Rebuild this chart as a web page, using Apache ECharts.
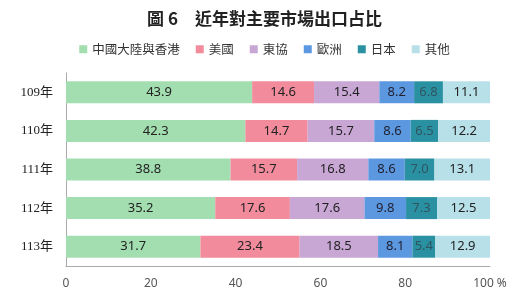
<!DOCTYPE html>
<html><head><meta charset="utf-8">
<script src="https://cdn.jsdelivr.net/npm/echarts@6/dist/echarts.min.js"></script>
<style>html,body{margin:0;padding:0;background:#fff}#c{width:529px;height:308px}</style>
</head><body><div id="c"></div>
<script>
const categories = ['109年','110年','111年','112年','113年'];
const seriesNames = ['中國大陸與香港','美國','東協','歐洲','日本','其他'];
const chinaHK = [43.9, 42.3, 38.8, 35.2, 31.7];
const usa = [14.6, 14.7, 15.7, 17.6, 23.4];
const asean = [15.4, 15.7, 16.8, 17.6, 18.5];
const europe = [8.2, 8.6, 8.6, 9.8, 8.1];
const japan = [6.8, 6.5, 7.0, 7.3, 5.4];
const others = [11.1, 12.2, 13.1, 12.5, 12.9];
const xTicks = [0, 20, 40, 60, 80, 100];

const values = [chinaHK, usa, asean, europe, japan, others];
const colors = ['#a3deb0', '#f28c9d', '#c9a7d5', '#5b98e0', '#2a91a3', '#b8e0e9'];
const labelColors = ['#222', '#222', '#222', '#223', '#2f5560', '#222'];

const chart = echarts.init(document.getElementById('c'));
chart.setOption({
  animation: false,
  title: {
    text: '圖 6　近年對主要市場出口占比',
    left: 'center', top: 5,
    textStyle: {fontFamily: 'Noto Sans CJK TC', fontSize: 17, fontWeight: 'bold', color: '#222'}
  },
  legend: {
    top: 38, left: 'center', itemWidth: 8, itemHeight: 8, itemGap: 16,
    icon: 'rect',
    textStyle: {fontFamily: 'Noto Sans CJK TC', fontSize: 12.5, color: '#333'},
    data: seriesNames
  },
  grid: {left: 66, right: 39, top: 73, bottom: 42},
  xAxis: {
    type: 'value', min: 0, max: 100, interval: 20,
    axisLine: {show: true, lineStyle: {color: '#aaa'}},
    axisTick: {show: false},
    splitLine: {show: false},
    axisLabel: {
      color: '#555', fontSize: 12, margin: 12, fontFamily: 'Noto Sans',
      formatter: v => xTicks.includes(v) ? (v === 100 ? '100 %' : String(v)) : ''
    }
  },
  yAxis: {
    type: 'category', data: categories, inverse: true,
    axisLine: {show: true, lineStyle: {color: '#aaa'}},
    axisTick: {show: false},
    axisLabel: {color: '#222', fontSize: 13, margin: 13, fontFamily: 'Liberation Serif, Noto Sans CJK TC'}
  },
  series: seriesNames.map((n, i) => ({
    name: n, type: 'bar', stack: 'total', barWidth: 22,
    data: values[i],
    itemStyle: {color: colors[i]},
    label: {
      show: true, position: 'inside', fontSize: 13, fontFamily: 'Noto Sans',
      color: labelColors[i],
      formatter: p => p.value.toFixed(1)
    }
  }))
});
</script></body></html>
